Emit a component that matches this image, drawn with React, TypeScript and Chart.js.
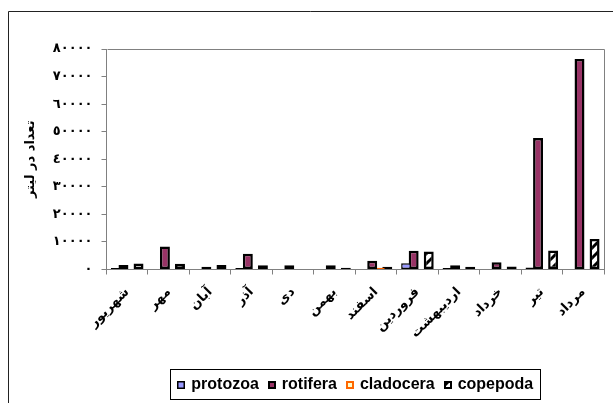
import { useEffect, useRef } from "react";
import { Chart, registerables } from "chart.js";

Chart.register(...registerables);

const months = ["شهریور", "مهر", "آبان", "آذر", "دی", "بهمن", "اسفند", "فروردین", "اردیبهشت", "خرداد", "تیر", "مرداد"];
const protozoa = [500, null, null, 500, null, null, null, 2300, 500, null, 700, null];
const rotifera = [1600, 8300, 1000, 5700, 1500, 1500, 3200, 6800, 1500, 2600, 47700, 76400];
const cladocera = [null, null, null, null, null, null, 600, null, null, null, null, null];
const copepoda = [2200, 2100, 1600, 1500, null, 600, 1000, 6500, 1000, 1100, 6900, 11100];
const yTickLabels = ["٠", "١٠٠٠٠", "٢٠٠٠٠", "٣٠٠٠٠", "٤٠٠٠٠", "٥٠٠٠٠", "٦٠٠٠٠", "٧٠٠٠٠", "٨٠٠٠٠"];
const yTitle = "تعداد در لیتر";
const seriesNames = ["protozoa", "rotifera", "cladocera", "copepoda"];

function makeHatch(): CanvasPattern | string {
  const s = 10;
  const pc = document.createElement("canvas");
  pc.width = s;
  pc.height = s;
  const g = pc.getContext("2d");
  if (!g) return "#fff";
  g.fillStyle = "#ffffff";
  g.fillRect(0, 0, s, s);
  g.strokeStyle = "#000000";
  g.lineWidth = 3;
  for (const off of [-s, 0, s]) {
    g.beginPath();
    g.moveTo(off - 1, s + 1);
    g.lineTo(off + s + 1, -1);
    g.stroke();
  }
  const p = g.createPattern(pc, "repeat");
  return p || "#fff";
}

const framePlugin = {
  id: "frame",
  beforeDraw(chart: any) {
    const ctx = chart.ctx;
    ctx.save();
    ctx.fillStyle = "#fff";
    ctx.fillRect(0, 0, chart.width, chart.height);
    ctx.strokeStyle = "#222";
    ctx.lineWidth = 1;
    ctx.beginPath();
    ctx.moveTo(8.5, chart.height);
    ctx.lineTo(8.5, 11.5);
    ctx.lineTo(chart.width, 11.5);
    ctx.stroke();
    ctx.restore();
  },
  afterDraw(chart: any) {
    const ctx = chart.ctx;
    const a = chart.chartArea;
    ctx.save();
    ctx.strokeStyle = "#808080";
    ctx.lineWidth = 1;
    ctx.beginPath();
    ctx.moveTo(Math.round(a.left) + 0.5, Math.round(a.top) + 0.5);
    ctx.lineTo(Math.round(a.right) + 0.5, Math.round(a.top) + 0.5);
    ctx.lineTo(Math.round(a.right) + 0.5, Math.round(a.bottom) + 0.5);
    ctx.stroke();

    // legend
    ctx.font = 'bold 16px "Liberation Sans", Arial, sans-serif';
    ctx.textBaseline = "middle";
    ctx.textAlign = "left";
    const box = 8;
    const gapBT = 6;
    const gapItem = 9;
    const ds = chart.data.datasets;
    const widths = ds.map((d: any) => box + gapBT + ctx.measureText(d.label).width);
    const total = widths.reduce((s: number, w: number) => s + w, 0) + gapItem * (ds.length - 1);
    const cx = (a.left + a.right) / 2;
    const left = Math.round(cx - total / 2 - 7);
    const top = 369;
    const h = 30;
    ctx.strokeStyle = "#000";
    ctx.lineWidth = 1;
    ctx.strokeRect(left + 0.5, top + 0.5, Math.round(total + 14), h);
    let x = cx - total / 2;
    const cy = top + h / 2 + 1;
    ds.forEach((d: any, i: number) => {
      const bx = Math.round(x);
      const by = Math.round(cy - box / 2);
      ctx.fillStyle = d.backgroundColor;
      ctx.fillRect(bx, by, box, box);
      ctx.strokeStyle = d.borderColor;
      ctx.lineWidth = Math.min(2, d.borderWidth);
      ctx.strokeRect(bx + ctx.lineWidth / 2, by + ctx.lineWidth / 2, box - ctx.lineWidth, box - ctx.lineWidth);
      ctx.fillStyle = "#000";
      ctx.fillText(d.label, x + box + gapBT, cy);
      x += widths[i] + gapItem;
    });
    ctx.restore();
  },
};

export default function App() {
  const ref = useRef<HTMLCanvasElement | null>(null);
  useEffect(() => {
    if (!ref.current) return;
    const hatch = makeHatch();
    const chart = new Chart(ref.current, {
      type: "bar",
      data: {
        labels: months,
        datasets: [
          { label: seriesNames[0], data: protozoa, backgroundColor: "#9999FF", borderColor: "#000000", borderWidth: 1.5 },
          { label: seriesNames[1], data: rotifera, backgroundColor: "#993366", borderColor: "#000000", borderWidth: 2.5 },
          { label: seriesNames[2], data: cladocera, backgroundColor: "#FFFFCC", borderColor: "#FF6600", borderWidth: 2.5 },
          { label: seriesNames[3], data: copepoda, backgroundColor: hatch as any, borderColor: "#000000", borderWidth: 2.5 },
        ] as any,
      },
      options: {
        responsive: false,
        animation: false,
        devicePixelRatio: 1,
        layout: { padding: { top: 49, right: 9, bottom: 0, left: 0 } },
        datasets: {
          bar: {
            categoryPercentage: 4 / 5.5,
            barPercentage: 1.32,
            borderSkipped: false,
          },
        } as any,
        plugins: {
          legend: { display: false },
          tooltip: { enabled: false },
        },
        scales: {
          x: {
            grid: { offset: true, drawOnChartArea: false, tickLength: 5, color: "#808080" },
            border: { color: "#808080", width: 1 },
            ticks: {
              autoSkip: false,
              minRotation: 45,
              maxRotation: 45,
              padding: 10,
              color: "#000",
              font: { family: '"DejaVu Sans", sans-serif', size: 13, weight: "bold" },
            },
            afterFit: (s: any) => {
              s.height = 133.5;
            },
          },
          y: {
            min: 0,
            max: 80000,
            grid: { drawOnChartArea: false, tickLength: 5, color: "#808080" },
            border: { color: "#808080", width: 1 },
            ticks: {
              stepSize: 10000,
              padding: 9,
              color: "#000",
              font: { family: '"DejaVu Sans", sans-serif', size: 13, weight: "bold" },
              callback: (_v: any, i: number) => yTickLabels[i],
            },
            title: {
              display: true,
              text: yTitle,
              color: "#000",
              padding: { top: 23, bottom: 0 },
              font: { family: '"DejaVu Sans", sans-serif', size: 13, weight: "bold" },
            },
            afterFit: (s: any) => {
              s.width = 106.5;
            },
          },
        },
      } as any,
      plugins: [framePlugin],
    });
    return () => chart.destroy();
  }, []);
  return (
    <div style={{ position: "absolute", left: 0, top: 0, width: 613, height: 403 }}>
      <canvas ref={ref} width={613} height={403} style={{ display: "block" }} />
    </div>
  );
}
